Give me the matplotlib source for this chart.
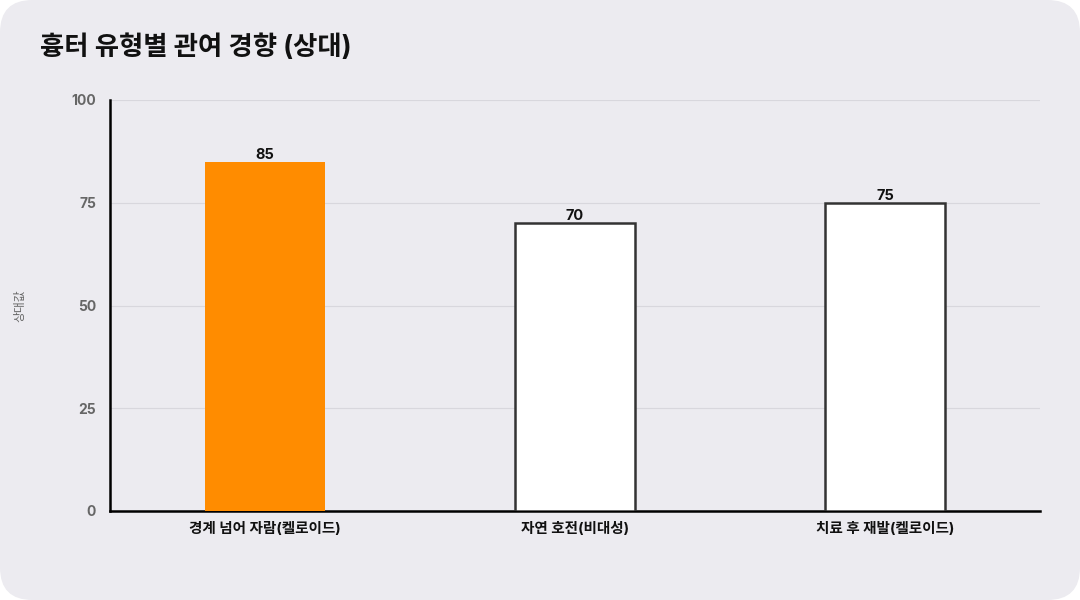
import matplotlib
matplotlib.use('Agg')
import matplotlib.pyplot as plt
from matplotlib.patches import FancyBboxPatch

plt.rcParams['font.family'] = ['Inter', 'Noto Sans CJK KR', 'DejaVu Sans']

# data
categories = ['경계 넘어 자람(켈로이드)', '자연 호전(비대성)', '치료 후 재발(켈로이드)']
values = [85, 70, 75]
highlight = [True, False, False]
yticks = [0, 25, 50, 75, 100]

fig = plt.figure(figsize=(10.8, 6), dpi=100)
fig.patch.set_facecolor('white')

# rounded card background
card = FancyBboxPatch((0.0, 0.0), 1.0, 1.0, boxstyle='round,pad=0,rounding_size=0.03',
                      transform=fig.transFigure, facecolor='#ECEBF0', edgecolor='none',
                      mutation_aspect=1.8, zorder=-10)
fig.patches.append(card)

ax = fig.add_axes([110/1080, 89/600, 930/1080, 411/600])
ax.set_facecolor('none')

x = list(range(len(categories)))
for xi, v, hl in zip(x, values, highlight):
    if hl:
        ax.bar(xi, v, width=0.39, color='#FF8C00', edgecolor='none', zorder=3)
    else:
        ax.bar(xi, v, width=0.39, color='white', edgecolor='#333333', linewidth=1.8, zorder=3)
    ax.text(xi, v, str(v), ha='center', va='bottom', fontsize=10.5,
            fontweight='bold', color='#111111', zorder=4)

ax.set_xlim(-0.5, 2.5)
ax.set_ylim(0, 100)
ax.set_yticks(yticks)
ax.set_yticklabels([str(t) for t in yticks], fontsize=10, fontweight='bold', color='#666666')
ax.set_xticks(x)
ax.set_xticklabels(categories, fontsize=10.5, fontweight='bold', color='#111111')
ax.tick_params(axis='both', length=0, pad=8)
ax.tick_params(axis='y', pad=10)

ax.grid(axis='y', color='#D8D7DD', linewidth=0.8, zorder=0)
ax.set_axisbelow(True)

for s in ['top', 'right']:
    ax.spines[s].set_visible(False)
ax.spines['left'].set_linewidth(1.8)
ax.spines['bottom'].set_linewidth(1.8)
ax.spines['left'].set_color('black')
ax.spines['bottom'].set_color('black')

fig.text(20/1080, 1 - 306/600, '상대값', rotation=90, ha='center', va='center',
         fontsize=8.5, color='#666666')

fig.text(40/1080, 1 - 48/600, '흉터 유형별 관여 경향 (상대)', ha='left', va='center',
         fontsize=19, fontweight='bold', color='#111111')

fig.savefig('out.png', dpi=100, facecolor=fig.get_facecolor())
